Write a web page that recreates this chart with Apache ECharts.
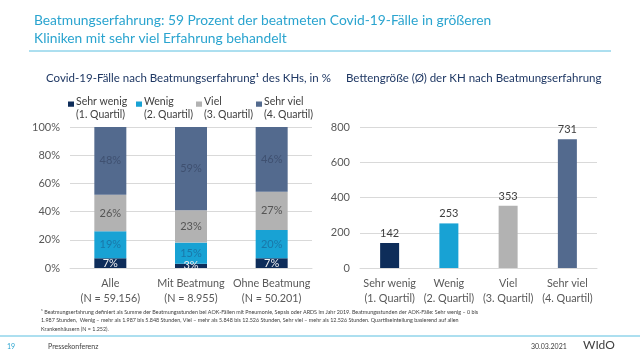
<!DOCTYPE html>
<html><head><meta charset="utf-8">
<script src="https://cdn.jsdelivr.net/npm/echarts@6/dist/echarts.min.js"></script>
<style>html,body{margin:0;padding:0;background:#fff}#c{width:640px;height:356px}</style>
</head><body><div id="c"></div>
<script>
const groups = ['Alle\n(N = 59.156)', 'Mit Beatmung\n(N = 8.955)', 'Ohne Beatmung\n(N = 50.201)'];
const seriesNames = ['Sehr wenig', 'Wenig', 'Viel', 'Sehr viel'];
const quartils = ['(1. Quartil)', '(2. Quartil)', '(3. Quartil)', '(4. Quartil)'];
const shareSehrWenig = [7, 3, 7];
const shareWenig = [19, 15, 20];
const shareViel = [26, 23, 27];
const shareSehrViel = [48, 59, 46];
const bedCategories = ['Sehr wenig\n(1. Quartil)', 'Wenig\n(2. Quartil)', 'Viel\n(3. Quartil)', 'Sehr viel\n(4. Quartil)'];
const bedSize = [142, 253, 353, 731];
const pctTicks = [0, 20, 40, 60, 80, 100];

const colors = ['#0e2d5a', '#18a2d4', '#b2b2b2', '#536a8e'];
const labelColors = ['#f0f0f0', '#1a77a8', '#555555', '#3f5070'];
const FONT = 'Lato';
const shares = [shareSehrWenig, shareWenig, shareViel, shareSehrViel];
const legendLeft = [63, 131, 191, 251];

const chart = echarts.init(document.getElementById('c'), null, {renderer: 'canvas'});
const legends = seriesNames.map((n, i) => ({
  data: [n], left: legendLeft[i], top: 90, itemWidth: 6, itemHeight: 13, itemGap: 0,
  icon: 'path://M0,0h10v10h-10z M0,25h0.01v0.01h-0.01z', symbolKeepAspect: false,
  selectedMode: false,
  formatter: (name) => name + '\n' + quartils[i],
  textStyle: {fontFamily: FONT, fontSize: 10.5, color: '#404040', lineHeight: 13, padding: [0, 0, 0, -3]}
}));

const series = shares.map((arr, i) => ({
  name: seriesNames[i], type: 'bar', stack: 'a', xAxisIndex: 0, yAxisIndex: 0,
  data: arr, barWidth: 32, itemStyle: {color: colors[i]},
  label: {show: true, position: 'inside', formatter: '{c}%', color: labelColors[i], fontFamily: FONT, fontSize: 11}
}));
series.push({
  type: 'bar', xAxisIndex: 1, yAxisIndex: 1, barWidth: 19,
  data: bedSize.map((v, i) => ({value: v, itemStyle: {color: colors[i]}})),
  label: {show: true, position: 'top', distance: 4, color: '#404040', fontFamily: FONT, fontSize: 11}
});

const axisLabel = {fontFamily: FONT, fontSize: 10.8, color: '#595959', lineHeight: 15, interval: 0};
chart.setOption({
  animation: false,
  textStyle: {fontFamily: FONT},
  title: [
    {text: 'Beatmungserfahrung: 59 Prozent der beatmeten Covid-19-Fälle in größeren\nKliniken mit sehr viel Erfahrung behandelt',
     left: 29, top: 7, textStyle: {fontFamily: FONT, fontSize: 13.8, fontWeight: 'normal', color: '#2aa4cf', lineHeight: 18}},
    {text: 'Covid-19-Fälle nach Beatmungserfahrung¹ des KHs, in %', left: 41, top: 67,
     textStyle: {fontFamily: FONT, fontSize: 11.5, fontWeight: 'normal', color: '#1f3864'}},
    {text: 'Bettengröße (Ø) der KH nach Beatmungserfahrung', left: 341, top: 67,
     textStyle: {fontFamily: FONT, fontSize: 11.5, fontWeight: 'normal', color: '#1f3864'}}
  ],
  legend: legends,
  grid: [
    {left: 70, top: 127, width: 242, height: 141},
    {left: 360, top: 127, width: 237, height: 141}
  ],
  xAxis: [
    {type: 'category', gridIndex: 0, data: groups, axisLine: {lineStyle: {color: '#d9d9d9'}}, axisTick: {show: false}, axisLabel: Object.assign({margin: 8}, axisLabel)},
    {type: 'category', gridIndex: 1, data: bedCategories, axisLine: {lineStyle: {color: '#d9d9d9'}}, axisTick: {show: false}, axisLabel: Object.assign({margin: 8}, axisLabel)}
  ],
  yAxis: [
    {type: 'value', gridIndex: 0, min: pctTicks[0], max: pctTicks[pctTicks.length - 1], interval: 20,
     axisLabel: {formatter: '{value}%', fontFamily: FONT, fontSize: 11, color: '#595959', margin: 10},
     splitLine: {lineStyle: {color: '#d9d9d9'}}},
    {type: 'value', gridIndex: 1, min: 0, max: 800, interval: 200,
     axisLabel: {fontFamily: FONT, fontSize: 11, color: '#595959', margin: 10},
     splitLine: {lineStyle: {color: '#d9d9d9'}}}
  ],
  series: series,
  graphic: [
    {type: 'line', shape: {x1: 29, y1: 51, x2: 611, y2: 51}, style: {stroke: '#5bbfe0', lineWidth: 1}},
    {type: 'text', left: 41, top: 308, style: {
      text: '¹ Beatmungserfahrung definiert als Summe der Beatmungsstunden bei AOK-Fällen mit Pneumonie, Sepsis oder ARDS im Jahr 2019. Beatmungsstunden der AOK-Fälle: Sehr wenig – 0 bis\n1.987 Stunden,  Wenig – mehr als 1.987 bis 5.848 Stunden, Viel – mehr als 5.848 bis 12.526 Stunden, Sehr viel – mehr als 12.526 Stunden. Quartilseinteilung basierend auf allen\nKrankenhäusern (N = 1.252).',
      font: '5.4px Lato', fill: '#404040', lineHeight: 8.5}},
    {type: 'line', shape: {x1: 0, y1: 336, x2: 640, y2: 336}, style: {stroke: '#5bbfe0', lineWidth: 1}},
    {type: 'text', left: 7, top: 343, style: {text: '19', font: '7px Lato', fill: '#2aa4cf'}},
    {type: 'text', left: 48, top: 343, style: {text: 'Pressekonferenz', font: '7px Lato', fill: '#404040'}},
    {type: 'text', left: 531, top: 343, style: {text: '30.03.2021', font: '7px Lato', fill: '#404040'}},
    {type: 'text', left: 583, top: 339, style: {text: 'WIdO', font: '12px Lato', fill: '#404040'}}
  ]
});
</script></body></html>
